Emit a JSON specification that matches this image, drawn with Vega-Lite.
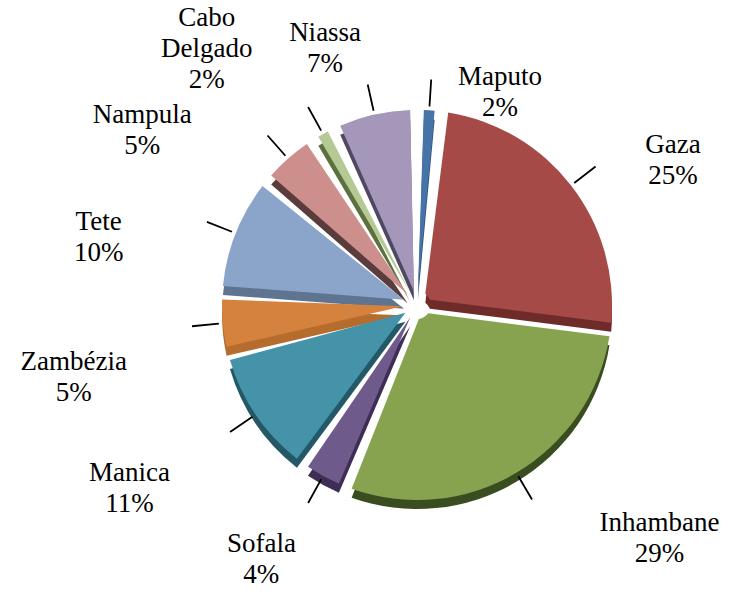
{
  "$schema": "https://vega.github.io/schema/vega-lite/v6.json",
  "width": 634,
  "height": 578,
  "autosize": {"type": "none"},
  "padding": {"left": 100, "top": 16, "right": 0, "bottom": 0},
  "background": "white",
  "config": {
    "view": {"stroke": null},
    "font": "Liberation Serif",
    "text": {"font": "Liberation Serif", "fontSize": 27, "lineBreak": "\n", "lineHeight": 31, "align": "center", "baseline": "middle", "color": "black"}
  },
  "data": {
    "values": [
      {"rank": 1, "region": "Maputo", "pct": 2, "label": "Maputo\n2%"},
      {"rank": 2, "region": "Gaza", "pct": 25, "label": "Gaza\n25%"},
      {"rank": 3, "region": "Inhambane", "pct": 29, "label": "Inhambane\n29%"},
      {"rank": 4, "region": "Sofala", "pct": 4, "label": "Sofala\n4%"},
      {"rank": 5, "region": "Manica", "pct": 11, "label": "Manica\n11%"},
      {"rank": 6, "region": "Zambézia", "pct": 5, "label": "Zambézia\n5%"},
      {"rank": 7, "region": "Tete", "pct": 10, "label": "Tete\n10%"},
      {"rank": 8, "region": "Nampula", "pct": 5, "label": "Nampula\n5%"},
      {"rank": 9, "region": "Cabo Delgado", "pct": 2, "label": "Cabo\nDelgado\n2%"},
      {"rank": 10, "region": "Niassa", "pct": 7, "label": "Niassa\n7%"}
    ]
  },
  "encoding": {
    "theta": {"field": "pct", "type": "quantitative", "stack": true},
    "order": {"field": "rank", "type": "quantitative"}
  },
  "layer": [
    {
      "mark": {"type": "arc", "radius": 195, "innerRadius": 14, "padAngle": 0.07, "yOffset": 9},
      "encoding": {
        "color": {
          "field": "region", "type": "nominal", "legend": null,
          "scale": {
            "domain": ["Maputo", "Gaza", "Inhambane", "Sofala", "Manica", "Zambézia", "Tete", "Nampula", "Cabo Delgado", "Niassa"],
            "range": ["#2F5580", "#6E2B2A", "#3A4D20", "#3E2D55", "#245866", "#B56C2D", "#5F7490", "#5A3C3C", "#5D7140", "#4E4863"]
          }
        }
      }
    },
    {
      "mark": {"type": "arc", "radius": 195, "innerRadius": 14, "padAngle": 0.07},
      "encoding": {
        "color": {
          "field": "region", "type": "nominal", "legend": null,
          "scale": {
            "domain": ["Maputo", "Gaza", "Inhambane", "Sofala", "Manica", "Zambézia", "Tete", "Nampula", "Cabo Delgado", "Niassa"],
            "range": ["#4674A8", "#A54A47", "#87A34F", "#6F5A8C", "#4493A8", "#D5823E", "#8BA4C9", "#CC8F8C", "#B4C994", "#A497B9"]
          }
        }
      }
    },
    {
      "mark": {"type": "arc", "radius": 226, "innerRadius": 199, "padAngle": 3, "stroke": "black", "strokeWidth": 1.8, "fill": "transparent"},
      "encoding": {}
    },
    {
      "mark": {"type": "text", "radius": 243, "thetaOffset": 0.286},
      "encoding": {"text": {"condition": {"test": {"field": "region", "equal": "Maputo"}, "field": "label", "type": "nominal"}, "value": ""}}
    },
    {
      "mark": {"type": "text", "radius": 302, "thetaOffset": 0.101},
      "encoding": {"text": {"condition": {"test": {"field": "region", "equal": "Gaza"}, "field": "label", "type": "nominal"}, "value": ""}}
    },
    {
      "mark": {"type": "text", "radius": 326, "thetaOffset": -0.305},
      "encoding": {"text": {"condition": {"test": {"field": "region", "equal": "Inhambane"}, "field": "label", "type": "nominal"}, "value": ""}}
    },
    {
      "mark": {"type": "text", "radius": 285, "thetaOffset": 0.075},
      "encoding": {"text": {"condition": {"test": {"field": "region", "equal": "Sofala"}, "field": "label", "type": "nominal"}, "value": ""}}
    },
    {
      "mark": {"type": "text", "radius": 333, "thetaOffset": 0.068},
      "encoding": {"text": {"condition": {"test": {"field": "region", "equal": "Manica"}, "field": "label", "type": "nominal"}, "value": ""}}
    },
    {
      "mark": {"type": "text", "radius": 348, "thetaOffset": -0.07},
      "encoding": {"text": {"condition": {"test": {"field": "region", "equal": "Zambézia"}, "field": "label", "type": "nominal"}, "value": ""}}
    },
    {
      "mark": {"type": "text", "radius": 329, "thetaOffset": -0.122},
      "encoding": {"text": {"condition": {"test": {"field": "region", "equal": "Tete"}, "field": "label", "type": "nominal"}, "value": ""}}
    },
    {
      "mark": {"type": "text", "radius": 334, "thetaOffset": -0.244},
      "encoding": {"text": {"condition": {"test": {"field": "region", "equal": "Nampula"}, "field": "label", "type": "nominal"}, "value": ""}}
    },
    {
      "mark": {"type": "text", "radius": 356, "thetaOffset": -0.129},
      "encoding": {"text": {"condition": {"test": {"field": "region", "equal": "Cabo Delgado"}, "field": "label", "type": "nominal"}, "value": ""}}
    },
    {
      "mark": {"type": "text", "radius": 287, "thetaOffset": -0.106},
      "encoding": {"text": {"condition": {"test": {"field": "region", "equal": "Niassa"}, "field": "label", "type": "nominal"}, "value": ""}}
    }
  ],
  "resolve": {"scale": {"color": "independent"}}
}
